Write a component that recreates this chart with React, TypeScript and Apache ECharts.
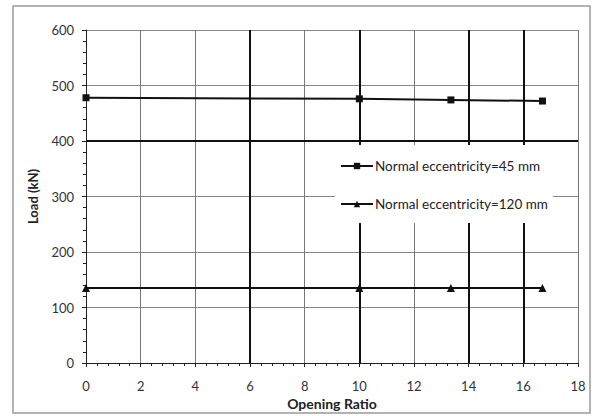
import React, { useEffect, useRef } from "react";
import * as echarts from "echarts";

const series45X = [0, 10, 13.35, 16.7];
const series45Y = [478, 476, 474, 472];
const series120X = [0, 10, 13.35, 16.7];
const series120Y = [135, 135, 135, 135];
const darkVerticals = [6, 10, 14, 16];
const darkHorizontals = [400];
const seriesNames = ["Normal eccentricity=45 mm", "Normal eccentricity=120 mm"];

const FONT = "Lato";

export default function App() {
  const ref = useRef<HTMLDivElement>(null);
  useEffect(() => {
    if (!ref.current) return;
    const chart = echarts.init(ref.current, undefined, { renderer: "svg" });
    chart.setOption({
      animation: false,
      backgroundColor: "#fff",
      textStyle: { fontFamily: FONT },
      graphic: [
        {
          type: "rect",
          shape: { x: 13, y: 6, width: 577, height: 407 },
          style: { fill: "none", stroke: "#9a9a9a", lineWidth: 1.5 },
          z: -1,
        },
      ],
      grid: { left: 86, top: 30, right: 16, bottom: 53, outerBoundsMode: "none", containLabel: false },
      xAxis: {
        type: "value",
        min: 0,
        max: 18,
        interval: 2,
        name: "Opening Ratio",
        nameLocation: "middle",
        nameGap: 31,
        nameTextStyle: { fontWeight: "bold", fontSize: 14, color: "#222", fontFamily: FONT },
        axisLine: { show: true, onZero: false, lineStyle: { color: "#222", width: 1 } },
        axisTick: { show: true, inside: false, length: 4, lineStyle: { color: "#222" } },
        minorTick: { show: true, splitNumber: 5, length: 3, lineStyle: { color: "#222" } },
        axisLabel: { color: "#333", fontSize: 13, margin: 16, fontFamily: FONT },
        splitLine: { show: true, lineStyle: { color: "#777", width: 1 } },
      },
      yAxis: {
        type: "value",
        min: 0,
        max: 600,
        interval: 100,
        name: "Load (kN)",
        nameLocation: "middle",
        nameGap: 47,
        nameTextStyle: { fontWeight: "bold", fontSize: 13, color: "#222", fontFamily: FONT },
        axisLine: { show: true, lineStyle: { color: "#222", width: 1 } },
        axisTick: { show: true, length: 4, lineStyle: { color: "#222" } },
        minorTick: { show: true, splitNumber: 5, length: 3, lineStyle: { color: "#222" } },
        axisLabel: { color: "#333", fontSize: 13, margin: 12, fontFamily: FONT },
        splitLine: { show: true, lineStyle: { color: "#888", width: 1 } },
      },
      legend: {
        orient: "vertical",
        left: 335,
        top: 145,
        padding: [14, 5, 12, 5],
        itemGap: 24,
        itemWidth: 32,
        itemHeight: 8,
        z: 20,
        backgroundColor: "#fff",
        textStyle: { fontSize: 13.5, color: "#222", fontFamily: FONT, padding: [0, 0, 0, -3] },
        data: seriesNames,
      },
      series: [
        {
          type: "line",
          name: "grid-emphasis",
          data: [],
          silent: true,
          z: 1,
          markLine: {
            silent: true,
            symbol: "none",
            label: { show: false },
            lineStyle: { color: "#111", width: 2, type: "solid" },
            data: [
              ...darkVerticals.map((v) => ({ xAxis: v })),
              ...darkHorizontals.map((v) => ({ yAxis: v })),
            ],
          },
        },
        {
          type: "line",
          name: seriesNames[0],
          data: series45X.map((x, i) => [x, series45Y[i]]),
          symbol: "rect",
          symbolSize: 7,
          lineStyle: { color: "#111", width: 2 },
          itemStyle: { color: "#111" },
          z: 3,
        },
        {
          type: "line",
          name: seriesNames[1],
          data: series120X.map((x, i) => [x, series120Y[i]]),
          symbol: "triangle",
          symbolSize: 8,
          lineStyle: { color: "#111", width: 2 },
          itemStyle: { color: "#111" },
          z: 3,
        },
      ],
    });
    return () => chart.dispose();
  }, []);
  return (
    <div
      ref={ref}
      style={{ position: "fixed", left: 0, top: 0, width: 594, height: 416 }}
    />
  );
}
